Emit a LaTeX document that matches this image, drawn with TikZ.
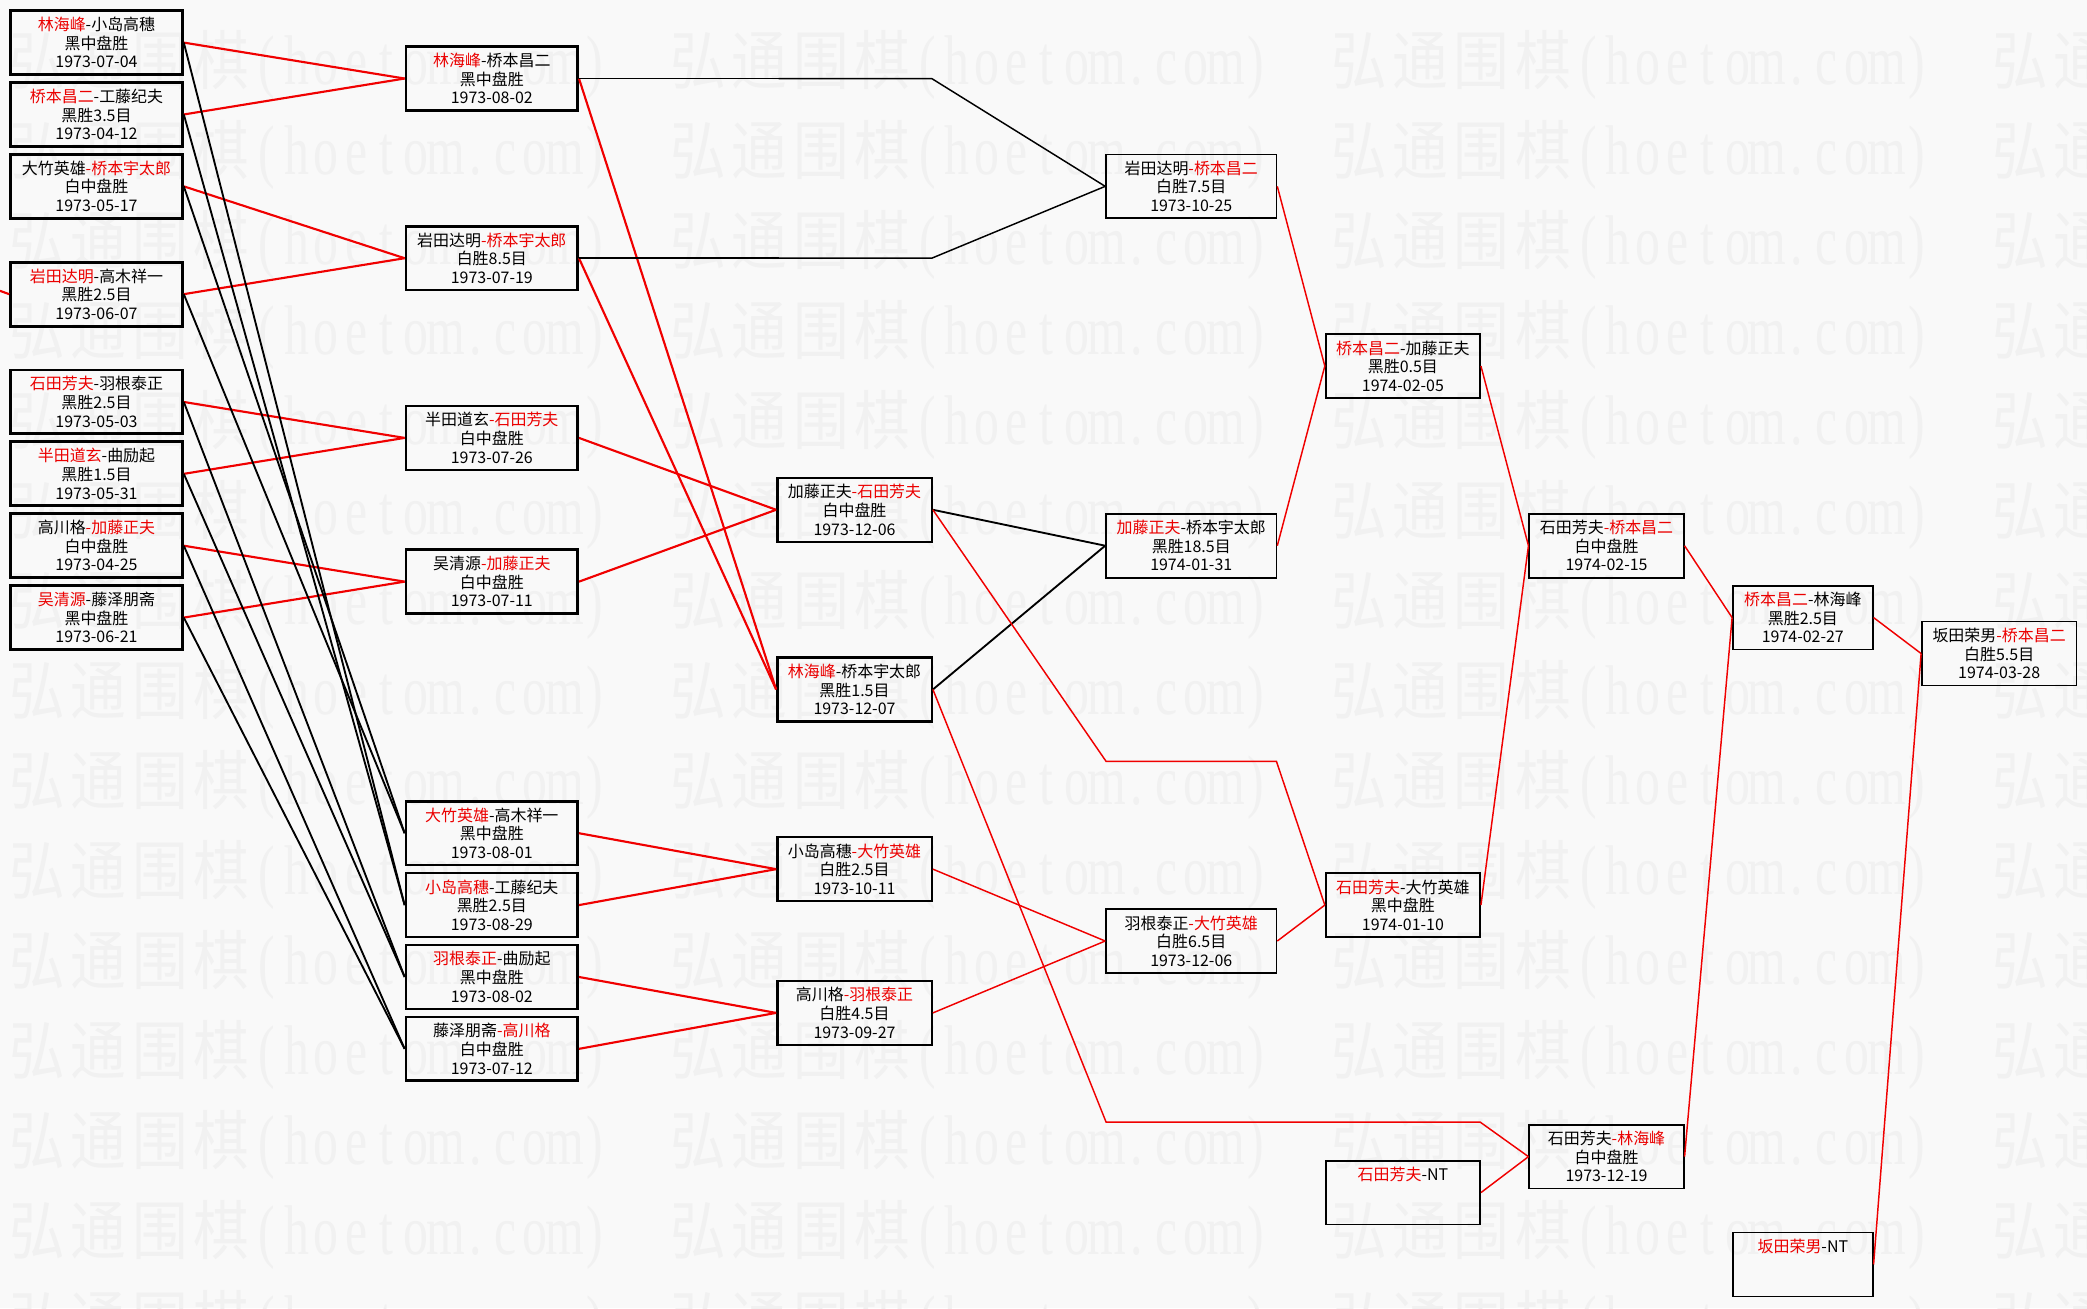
\documentclass[tikz,border=0pt]{standalone}
\usepackage{fontspec}
\newfontfamily\cjk{Noto Sans CJK SC}
\newfontfamily\wmlat{Liberation Serif}
\definecolor{wred}{RGB}{235,0,0}
\definecolor{lred}{RGB}{240,0,0}
\definecolor{bgc}{RGB}{249,249,249}
\definecolor{wmgray}{RGB}{241,241,241}
\newcommand\winr[1]{\textcolor{wred}{#1}}
\newcommand\boxfont{\cjk\fontsize{12}{14}\selectfont\lineskiplimit=-6pt\relax}
\newcommand\wmch[1]{\makebox[46pt]{\scalebox{0.95}[1.1]{#1}}}
\newcommand\wmlc[1]{\makebox[22.4pt]{\scalebox{0.85}[1.2]{#1}}}
\newcommand\wmtext{\cjk\fontsize{44}{44}\selectfont
  \wmch{弘}\wmch{通}\wmch{围}\wmch{棋}\wmlat
  \wmlc{(}\wmlc{h}\wmlc{o}\wmlc{e}\wmlc{t}\wmlc{o}\wmlc{m}\wmlc{.}\wmlc{c}\wmlc{o}\wmlc{m}\wmlc{)}}
\tikzset{
  gbox/.style={draw=black, rectangle, inner sep=0pt, minimum height=48pt,
               align=center, font=\boxfont, text=black},
  colA/.style={gbox, minimum width=129pt, line width=2.2pt},
  colB/.style={gbox, minimum width=129pt, line width=2.0pt},
  colC/.style={gbox, minimum width=116pt, line width=1.8pt},
  colD/.style={gbox, minimum width=128pt, line width=1.3pt},
  colE/.style={gbox, minimum width=116pt, line width=1.3pt},
  colG/.style={gbox, minimum width=105pt, line width=1.3pt},
  ntbox/.style={text depth=28pt},
  wline/.style={draw=lred, line width=1.6pt},
  wthin/.style={draw=lred, line width=1.1pt},
  lline/.style={draw=black, line width=1.4pt},
  lthin/.style={draw=black, line width=1.1pt},
  wmark/.style={inner sep=0pt, text=wmgray, anchor=west}
}
\begin{document}
\begin{tikzpicture}[x=1pt, y=-1pt]
\useasboundingbox (0,0) rectangle (1568,983);
\fill[bgc] (0,0) rectangle (1568,983);
\begin{scope}
  \clip (0,0) rectangle (1568,983);
  \foreach \r in {0,...,14} {
    \foreach \c in {0,...,3} {
      \node[wmark] (wm-\r-\c) at ({5+496.5*\c}, {49+67.6*\r}) {\wmtext};
    }
  }
\end{scope}

% column 1
\node[colA] (A1) at (72.5,32)  {\winr{林海峰}-小岛高穗\\黑中盘胜\\1973-07-04};
\node[colA] (A2) at (72.5,86)  {\winr{桥本昌二}-工藤纪夫\\黑胜3.5目\\1973-04-12};
\node[colA] (A3) at (72.5,140) {大竹英雄\winr{-桥本宇太郎}\\白中盘胜\\1973-05-17};
\node[colA] (A4) at (72.5,221) {\winr{岩田达明}-高木祥一\\黑胜2.5目\\1973-06-07};
\node[colA] (A5) at (72.5,302) {\winr{石田芳夫}-羽根泰正\\黑胜2.5目\\1973-05-03};
\node[colA] (A6) at (72.5,356) {\winr{半田道玄}-曲励起\\黑胜1.5目\\1973-05-31};
\node[colA] (A7) at (72.5,410) {高川格\winr{-加藤正夫}\\白中盘胜\\1973-04-25};
\node[colA] (A8) at (72.5,464) {\winr{吴清源}-藤泽朋斋\\黑中盘胜\\1973-06-21};

% column 2
\node[colB] (B1) at (369.5,59)  {\winr{林海峰}-桥本昌二\\黑中盘胜\\1973-08-02};
\node[colB] (B2) at (369.5,194) {岩田达明\winr{-桥本宇太郎}\\白胜8.5目\\1973-07-19};
\node[colB] (B3) at (369.5,329) {半田道玄\winr{-石田芳夫}\\白中盘胜\\1973-07-26};
\node[colB] (B4) at (369.5,437) {吴清源\winr{-加藤正夫}\\白中盘胜\\1973-07-11};
\node[colB] (B5) at (369.5,626) {\winr{大竹英雄}-高木祥一\\黑中盘胜\\1973-08-01};
\node[colB] (B6) at (369.5,680) {\winr{小岛高穗}-工藤纪夫\\黑胜2.5目\\1973-08-29};
\node[colB] (B7) at (369.5,734) {\winr{羽根泰正}-曲励起\\黑中盘胜\\1973-08-02};
\node[colB] (B8) at (369.5,788) {藤泽朋斋\winr{-高川格}\\白中盘胜\\1973-07-12};

% column 3
\node[colC] (C1) at (642,383) {加藤正夫\winr{-石田芳夫}\\白中盘胜\\1973-12-06};
\node[colC] (C2) at (642,518) {\winr{林海峰}-桥本宇太郎\\黑胜1.5目\\1973-12-07};
\node[colC] (C3) at (642,653) {小岛高穗\winr{-大竹英雄}\\白胜2.5目\\1973-10-11};
\node[colC] (C4) at (642,761) {高川格\winr{-羽根泰正}\\白胜4.5目\\1973-09-27};

% column 4
\node[colD] (D1) at (895,140) {岩田达明\winr{-桥本昌二}\\白胜7.5目\\1973-10-25};
\node[colD] (D2) at (895,410) {\winr{加藤正夫}-桥本宇太郎\\黑胜18.5目\\1974-01-31};
\node[colD] (D3) at (895,707) {羽根泰正\winr{-大竹英雄}\\白胜6.5目\\1973-12-06};

% column 5
\node[colE] (E1) at (1054,275) {\winr{桥本昌二}-加藤正夫\\黑胜0.5目\\1974-02-05};
\node[colE] (E2) at (1054,680) {\winr{石田芳夫}-大竹英雄\\黑中盘胜\\1974-01-10};
\node[colE, ntbox] (E3) at (1054,896) {\winr{石田芳夫}-NT};

% column 6
\node[colE] (F1) at (1207,410) {石田芳夫\winr{-桥本昌二}\\白中盘胜\\1974-02-15};
\node[colE] (F2) at (1207,869) {石田芳夫\winr{-林海峰}\\白中盘胜\\1973-12-19};

% column 7
\node[colG] (G1) at (1354.5,464) {\winr{桥本昌二}-林海峰\\黑胜2.5目\\1974-02-27};
\node[colG, ntbox] (G2) at (1354.5,950) {\winr{坂田荣男}-NT};

% column 8
\node[colE] (H1) at (1502,491) {坂田荣男\winr{-桥本昌二}\\白胜5.5目\\1974-03-28};

% turning points
\coordinate (lf) at (0,218.5);
\coordinate (k1) at (585,59);
\coordinate (j1) at (700,59);
\coordinate (k2) at (585,194);
\coordinate (j2) at (700,194);
\coordinate (p1) at (831,572);
\coordinate (p2) at (959,572);
\coordinate (q1) at (831,843);
\coordinate (q2) at (1112,843);

% winners, column 1 -> 2
\draw[wline] (lf) -- (A4.west);
\draw[wline] (A1.east) -- (B1.west);
\draw[wline] (A2.east) -- (B1.west);
\draw[wline] (A3.east) -- (B2.west);
\draw[wline] (A4.east) -- (B2.west);
\draw[wline] (A5.east) -- (B3.west);
\draw[wline] (A6.east) -- (B3.west);
\draw[wline] (A7.east) -- (B4.west);
\draw[wline] (A8.east) -- (B4.west);

% losers, column 1 -> lower column 2
\draw[lline] (A3.east) -- (B5.west);
\draw[lline] (A4.east) -- (B5.west);
\draw[lline] (A1.east) -- (B6.west);
\draw[lline] (A2.east) -- (B6.west);
\draw[lline] (A5.east) -- (B7.west);
\draw[lline] (A6.east) -- (B7.west);
\draw[lline] (A7.east) -- (B8.west);
\draw[lline] (A8.east) -- (B8.west);

% column 2 -> 3
\draw[wline] (B1.east) -- (C2.west);
\draw[wline] (B2.east) -- (C2.west);
\draw[wline] (B3.east) -- (C1.west);
\draw[wline] (B4.east) -- (C1.west);
\draw[wline] (B5.east) -- (C3.west);
\draw[wline] (B6.east) -- (C3.west);
\draw[wline] (B7.east) -- (C4.west);
\draw[wline] (B8.east) -- (C4.west);

% losers of B1, B2 -> D1
\draw[lline] (B1.east) -- (k1);
\draw[lthin] (k1) -- (j1) -- (D1.west);
\draw[lline] (B2.east) -- (k2);
\draw[lthin] (k2) -- (j2) -- (D1.west);

% column 3 -> 4
\draw[lline] (C1.east) -- (D2.west);
\draw[lline] (C2.east) -- (D2.west);
\draw[wthin] (C1.east) -- (p1) -- (p2) -- (E2.west);
\draw[wthin] (C2.east) -- (q1) -- (q2) -- (F2.west);
\draw[wthin] (C3.east) -- (D3.west);
\draw[wthin] (C4.east) -- (D3.west);

% column 4 -> 5
\draw[wthin] (D1.east) -- (E1.west);
\draw[wthin] (D2.east) -- (E1.west);
\draw[wthin] (D3.east) -- (E2.west);

% column 5 -> 6
\draw[wthin] (E1.east) -- (F1.west);
\draw[wthin] (E2.east) -- (F1.west);
\draw[wthin] (E3.east) -- (F2.west);

% column 6 -> 7
\draw[wthin] (F1.east) -- (G1.west);
\draw[wthin] (F2.east) -- (G1.west);

% column 7 -> 8
\draw[wthin] (G1.east) -- (H1.west);
\draw[wthin] (G2.east) -- (H1.west);
\end{tikzpicture}
\end{document}
